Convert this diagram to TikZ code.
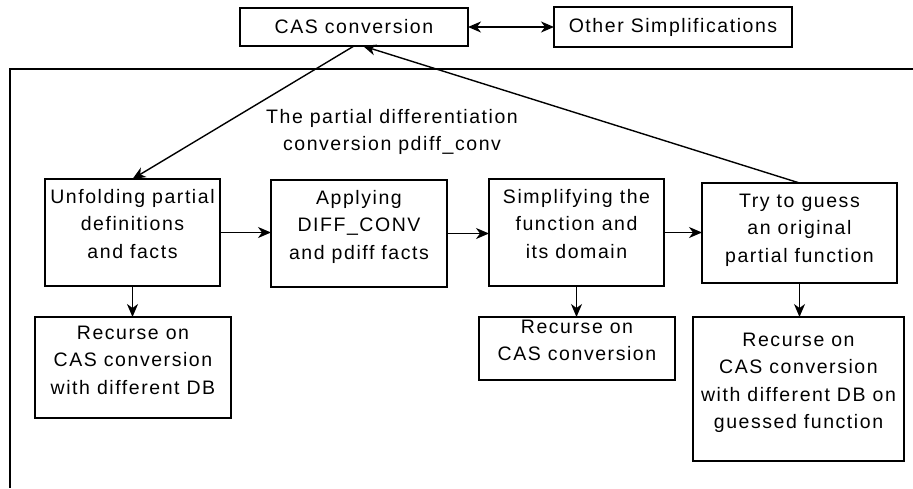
\documentclass[tikz,border=0pt]{standalone}
\usepackage{fontspec}
\setmainfont{Liberation Sans}[LetterSpace=8]
\usetikzlibrary{arrows.meta}

\begin{document}
\begin{tikzpicture}[x=1pt, y=-1pt, font=\fontsize{19.5}{27.5}\selectfont,
    >={Stealth[length=13pt, width=11pt, inset=4pt]},
    topbox/.style={draw=black, line width=1.5pt, inner sep=0pt, outer sep=0pt},
    stepbox/.style={draw=black, line width=1.5pt, inner sep=0pt, outer sep=0pt, align=center, anchor=north},
    link/.style={->, line width=1.4pt}]
    % Canvas
    \fill[white] (0,0) rectangle (913,488);
    \useasboundingbox (0,0) rectangle (913,488);

    % Top boxes
    \node[topbox, minimum width=228pt, minimum height=38pt] (cas) at (354,27) {CAS conversion};
    \node[topbox, minimum width=238pt, minimum height=40pt] (other) at (673,27) {Other Simplifications};
    \draw[<->, line width=1.4pt] (cas) -- (other);

    % Frame of the partial differentiation conversion
    \draw[line width=1.8pt] (913,69) -- (10,69) -- (10,488);
    \node[align=center] (title) at (392,132) {The partial differentiation\\conversion pdiff\_conv};

    % Steps (text height = top to last baseline)
    \node[stepbox, minimum width=175pt, text height=79pt, text depth=28pt] (unfold) at (132.5,179) {Unfolding partial\\definitions\\and facts};
    \node[stepbox, minimum width=176pt, text height=79pt, text depth=28pt] (apply) at (359,180) {Applying\\DIFF\_CONV\\and pdiff facts};
    \node[stepbox, minimum width=175pt, text height=79pt, text depth=28pt] (simplify) at (576.5,179) {Simplifying the\\function and\\its domain};
    \node[stepbox, minimum width=195pt, text height=79pt, text depth=21pt] (guess) at (799.5,183) {Try to guess\\an original\\partial function};

    % Recursive calls
    \node[stepbox, minimum width=196pt, text height=77pt, text depth=24pt] (rec1) at (133,317) {Recurse on\\CAS conversion\\with different DB};
    \node[stepbox, minimum width=196pt, text height=43.5pt, text depth=19.5pt] (rec2) at (577,317) {Recurse on\\CAS conversion};
    \node[stepbox, minimum width=211pt, text height=111.5pt, text depth=32.5pt] (rec3) at (798.5,317) {Recurse on\\CAS conversion\\with different DB on\\guessed function};

    % Connections between steps
    \foreach \a/\b in {unfold/apply, apply/simplify, simplify/guess} {
      \draw[link] (\a.east) -- (\a.east -| \b.west);
    }
    \foreach \a/\b in {unfold/rec1, simplify/rec2, guess/rec3} {
      \draw[link] (\a.south) -- (\a.south |- \b.north);
    }

    % Into and out of the conversion
    \draw[link] (cas.south) -- (unfold.north);
    \draw[link] (guess.north) -- ([xshift=9pt]cas.south);
  \end{tikzpicture}
\end{document}
